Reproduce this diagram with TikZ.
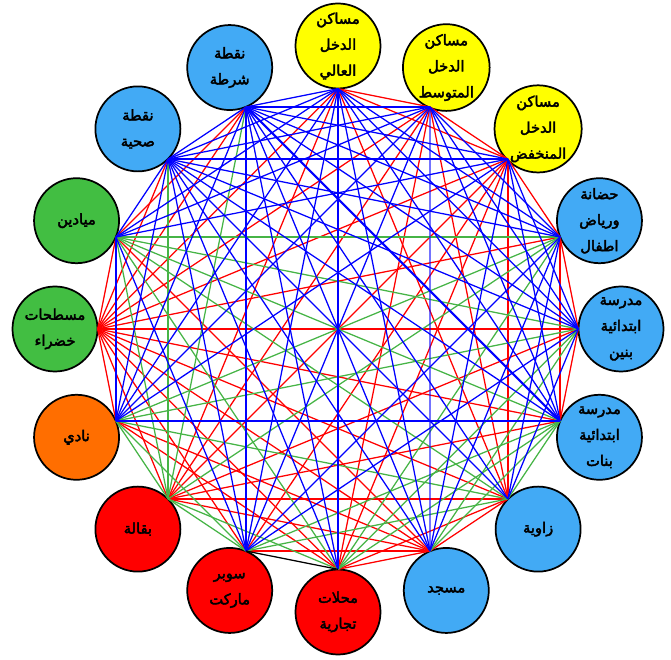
\documentclass[tikz,border=0pt]{standalone}
\usepackage{fontspec}
\newfontfamily\arabicfont[Script=Arabic, FakeBold=2.8]{DejaVu Sans}
\TeXXeTstate=1
\usetikzlibrary{calc}
\definecolor{houseyellow}{RGB}{255,255,0}
\definecolor{serviceblue}{RGB}{66,170,245}
\definecolor{shopred}{RGB}{255,0,0}
\definecolor{cluborange}{RGB}{255,110,0}
\definecolor{parkgreen}{RGB}{66,190,66}
\definecolor{linkblue}{RGB}{0,0,255}
\definecolor{linkred}{RGB}{255,0,0}
\definecolor{linkgreen}{RGB}{70,180,70}
\newcommand{\ar}[1]{\beginR#1\endR}
\tikzset{
  landuse/.style={circle, draw=black, line width=1.3pt, minimum size=63.75pt, inner sep=0pt, align=center, font=\arabicfont\fontsize{11}{19.5}\selectfont},
  housing/.style={landuse, fill=houseyellow},
  service/.style={landuse, fill=serviceblue},
  commerce/.style={landuse, fill=shopred},
  club/.style={landuse, fill=cluborange},
  openspace/.style={landuse, fill=parkgreen},
  bluelink/.style={draw=linkblue, line width=0.95pt},
  redlink/.style={draw=linkred, line width=0.95pt},
  greenlink/.style={draw=linkgreen, line width=0.95pt},
  blacklink/.style={draw=black, line width=0.95pt},
  heavylink/.style={draw=linkblue, line width=1.6pt}
}

\begin{document}
\begin{tikzpicture}[x=0.75pt, y=0.75pt]
  \useasboundingbox (0,0) rectangle (671,660);
  \begin{scope}[shift={(338,331)}]
    \coordinate (c) at (0,0);
    % land uses round the ring
    \node[housing] (n0) at (90:283) {\ar{مساكن}\\\ar{الدخل}\\\ar{العالي}};
    \node[housing] (n1) at (67.5:283) {\ar{مساكن}\\\ar{الدخل}\\\ar{المتوسط}};
    \node[housing] (n2) at (45:283) {\ar{مساكن}\\\ar{الدخل}\\\ar{المنخفض}};
    \node[service] (n3) at (22.5:283) {\ar{حضانة}\\\ar{ورياض}\\\ar{اطفال}};
    \node[service] (n4) at (0:283) {\ar{مدرسة}\\\ar{ابتدائية}\\\ar{بنين}};
    \node[service] (n5) at (-22.5:283) {\ar{مدرسة}\\\ar{ابتدائية}\\\ar{بنات}};
    \node[service] (n6) at (-45:283) {\ar{زاوية}};
    \node[service] (n7) at (-67.5:283) {\ar{مسجد}};
    \node[commerce] (n8) at (-90:283) {\ar{محلات}\\\ar{تجارية}};
    \node[commerce] (n9) at (-112.5:283) {\ar{سوبر}\\\ar{ماركت}};
    \node[commerce] (n10) at (-135:283) {\ar{بقالة}};
    \node[club] (n11) at (-157.5:283) {\ar{نادي}};
    \node[openspace] (n12) at (180:283) {\ar{مسطحات}\\\ar{خضراء}};
    \node[openspace] (n13) at (157.5:283) {\ar{ميادين}};
    \node[service] (n14) at (135:283) {\ar{نقطة}\\\ar{صحية}};
    \node[service] (n15) at (112.5:283) {\ar{نقطة}\\\ar{شرطة}};
    % meeting point of the links on each circle
    \foreach \k in {0,...,15}
      \coordinate (p\k) at ($(n\k.center)!32pt!(c)$);
    % links
    \foreach \a/\b in {0/1,0/2,0/6,0/10,0/12,1/2,1/6,1/8,1/10,1/12,2/3,2/6,2/8,2/9,2/10,2/12,
        3/4,3/5,3/12,4/5,4/10,4/12,5/10,5/12,6/7,6/8,6/10,6/12,
        7/8,7/9,7/10,7/11,7/12,7/13,8/11,8/12,9/12,10/12,11/12,12/13,12/14,12/15,13/15}
      \draw[redlink] (p\a) -- (p\b);
    \foreach \a/\b in {3/8,3/10,3/11,3/13,4/7,4/8,4/11,4/13,5/6,5/7,5/8,5/9,5/13,6/9,6/11,6/13,
        8/10,8/13,9/10,9/11,10/11,10/13,10/14,10/15}
      \draw[greenlink] (p\a) -- (p\b);
    \foreach \a/\b in {0/3,0/4,0/5,0/7,0/8,0/9,0/11,0/13,0/14,0/15,1/3,1/4,1/5,1/9,1/11,1/13,1/14,1/15,
        2/4,2/5,2/7,2/11,2/13,2/14,2/15,3/6,3/7,3/9,3/14,3/15,4/6,4/9,4/14,4/15,
        5/11,5/14,6/14,6/15,7/14,7/15,8/14,8/15,9/13,9/14,9/15,11/13,11/14,11/15,13/14,14/15}
      \draw[bluelink] (p\a) -- (p\b);
    \draw[heavylink, opacity=0.55] (p1) -- (p7);
    \draw[heavylink] (p5) -- (p15);
    \draw[blacklink] (p8) -- (p9);
  \end{scope}
\end{tikzpicture}
\end{document}
